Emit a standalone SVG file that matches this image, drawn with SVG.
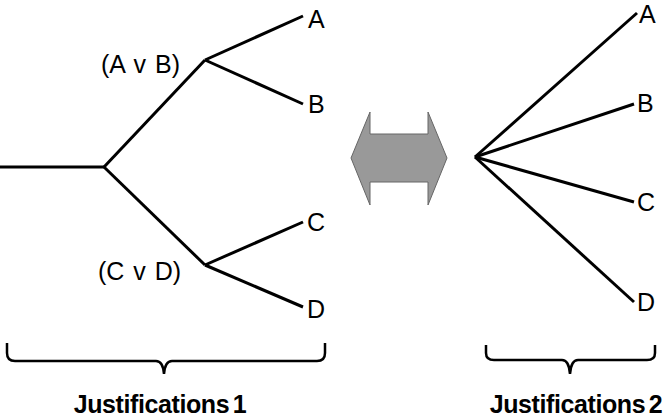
<svg xmlns="http://www.w3.org/2000/svg" width="668" height="417" viewBox="0 0 668 417">
  <style>
    .edge { stroke: #000; stroke-width: 3; fill: none; stroke-linecap: butt; }
    .brace { stroke: #000; stroke-width: 2.5; fill: none; }
    .lbl { font-family: "Liberation Sans", Arial, sans-serif; font-size: 25px; fill: #000; }
    .grp { word-spacing: 2px; }
    .title { font-family: "Liberation Sans", Arial, sans-serif; font-size: 25px; font-weight: bold; fill: #000; text-anchor: middle; letter-spacing: -0.4px; word-spacing: -3px; }
  </style>
  <rect width="668" height="417" fill="#fff"/>

  <!-- connectors -->
  <g id="connectors">
    <!-- nested tree -->
    <line class="edge" x1="0" y1="167" x2="104" y2="167"/>
    <line class="edge" x1="104" y1="167" x2="205" y2="60"/>
    <line class="edge" x1="104" y1="167" x2="205" y2="265"/>
    <line class="edge" x1="205" y1="60" x2="303" y2="16"/>
    <line class="edge" x1="205" y1="60" x2="303" y2="104"/>
    <line class="edge" x1="205" y1="265" x2="303" y2="222"/>
    <line class="edge" x1="205" y1="265" x2="303" y2="307"/>
    <!-- flat tree -->
    <line class="edge" x1="475" y1="157" x2="637" y2="13"/>
    <line class="edge" x1="475" y1="157" x2="634" y2="104"/>
    <line class="edge" x1="475" y1="157" x2="634" y2="202"/>
    <line class="edge" x1="475" y1="157" x2="634" y2="302"/>
  </g>

  <!-- nested tree labels -->
  <g id="node-AvB"><text class="lbl grp" x="101" y="73">(A v B)</text></g>
  <g id="node-CvD"><text class="lbl grp" x="98" y="280">(C v D)</text></g>
  <g id="node-A1"><text class="lbl" x="308" y="28">A</text></g>
  <g id="node-B1"><text class="lbl" x="308" y="113">B</text></g>
  <g id="node-C1"><text class="lbl" x="307" y="231">C</text></g>
  <g id="node-D1"><text class="lbl" x="307" y="318">D</text></g>

  <!-- flat tree labels -->
  <g id="node-A2"><text class="lbl" x="639" y="23">A</text></g>
  <g id="node-B2"><text class="lbl" x="637" y="112">B</text></g>
  <g id="node-C2"><text class="lbl" x="637" y="211">C</text></g>
  <g id="node-D2"><text class="lbl" x="637" y="311">D</text></g>

  <!-- equivalence arrow -->
  <g id="equiv-arrow">
    <polygon points="351,158 370,112 370,134 428,134 428,112 447,158 428,205 428,182 370,182 370,205"
             fill="#999999" stroke="#666666" stroke-width="1"/>
  </g>

  <!-- braces -->
  <g id="brace-1">
    <path class="brace" d="M7,343 V353 Q7,361 15,361 H156 Q163,361 164,374 Q165,361 172,361 H317 Q325,361 325,353 V343"/>
  </g>
  <g id="brace-2">
    <path class="brace" d="M486,345 V353 Q486,360 494,360 H562 Q569,360 570,374 Q571,360 578,360 H647 Q655,360 655,353 V345"/>
  </g>

  <g id="title-1"><text class="title" x="160" y="413">Justifications 1</text></g>
  <g id="title-2"><text class="title" x="576" y="413">Justifications 2</text></g>
</svg>
